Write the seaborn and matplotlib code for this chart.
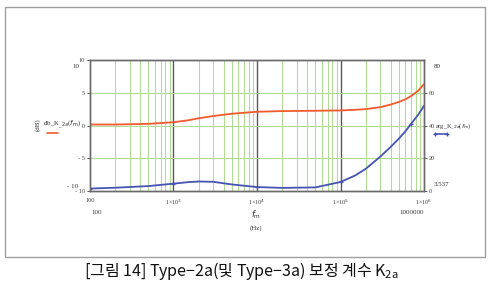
import matplotlib
matplotlib.use("Agg")
import matplotlib.pyplot as plt
import seaborn as sns
import pandas as pd
import numpy as np
from matplotlib.patches import Rectangle

# ---- data ----
freq = [100, 200, 500, 1000, 1500, 2000, 3000, 5000, 10000, 20000, 50000,
        100000, 150000, 200000, 300000, 400000, 500000, 600000, 700000,
        850000, 1000000]
db_k2a = [0.15, 0.15, 0.25, 0.5, 0.8, 1.1, 1.45, 1.8, 2.1, 2.2, 2.25,
          2.3, 2.4, 2.5, 2.8, 3.2, 3.6, 4.0, 4.5, 5.3, 6.3]
arg_k2a = [1.5, 2.0, 3.0, 4.5, 5.4, 5.8, 5.6, 4.0, 2.4, 1.9, 2.2,
           5.5, 9.5, 13.5, 21.0, 27.0, 32.0, 36.5, 41.0, 46.5, 52.0]
x_ticks = [100, 1000, 10000, 100000, 1000000]
x_ticklabels = ["100", r"1×10$^{3}$", r"1×10$^{4}$", r"1×10$^{5}$", r"1×10$^{6}$"]
yl_ticks = [-10, -5, 0, 5, 10]
yr_ticks = [0, 20, 40, 60]

df = pd.DataFrame({"f": freq, "db": db_k2a, "arg": arg_k2a})

sns.set_theme(style="white")
plt.rcParams["font.family"] = ["Liberation Serif", "DejaVu Sans"]

fig = plt.figure(figsize=(5.0, 2.97), dpi=100)
W, H = 500, 297
def fx(px): return px / W
def fy(py): return 1 - py / H

# outer frame
fig.patches.append(Rectangle((fx(5), fy(257)), fx(485) - fx(5), fy(7) - fy(257),
                             transform=fig.transFigure, fill=False,
                             edgecolor="#a0a0a0", linewidth=1.0))

ax = fig.add_axes([fx(90), fy(191), fx(424) - fx(90), fy(60) - fy(191)])
ax2 = ax.twinx()

red = "#f25a2e"
blue = "#4653b5"
green = "#b2dc96"

sns.lineplot(data=df, x="f", y="db", ax=ax, color=red, linewidth=1.3)
sns.lineplot(data=df, x="f", y="arg", ax=ax2, color=blue, linewidth=1.3)
ax2.plot(df["f"].iloc[[0, 3, 8, 11, 18]], df["arg"].iloc[[0, 3, 8, 11, 18]],
         linestyle="none", marker="+", markersize=3, markeredgewidth=0.8, color=blue)

ax.set_xscale("log")
ax.set_xlim(100, 1e6)
ax.set_ylim(-10, 10)
ax2.set_ylim(0, 80)

# grid
for dec in [100, 1000, 10000, 100000]:
    for m in range(2, 10):
        ax.axvline(dec * m, color=green, linewidth=0.8, zorder=0)
for d in [1000, 10000, 100000]:
    ax.axvline(d, color="#5a5a5a", linewidth=1.0, zorder=0)
for yv in [-5, 0, 5]:
    ax.axhline(yv, color=green, linewidth=0.8, zorder=0)

for a in (ax, ax2):
    for s in a.spines.values():
        s.set_color("#6a6a6a")
        s.set_linewidth(1.0)

ax.set_xticks(x_ticks)
ax.set_xticklabels(x_ticklabels, fontsize=4.5)
ax.xaxis.set_minor_locator(matplotlib.ticker.NullLocator())
ax.set_yticks(yl_ticks)
ax.set_yticklabels([str(v) if v >= 0 else "- " + str(-v) for v in yl_ticks], fontsize=4.5)
ax2.set_yticks(yr_ticks)
ax2.set_yticklabels([str(v) for v in yr_ticks], fontsize=4.5)
for a in (ax, ax2):
    a.tick_params(length=2, width=0.6, pad=1.5, colors="#444444")
ax.tick_params(axis="x", pad=3)
ax.set_xlabel("")
ax.set_ylabel("")
ax2.set_ylabel("")

tc = "#333333"
fs = 5
# extra Mathcad-style labels
fig.text(fx(76), fy(67), "10", fontsize=fs, color=tc, ha="center", va="center")
fig.text(fx(73), fy(186), "- 10", fontsize=fs, color=tc, ha="center", va="center")
fig.text(fx(437), fy(66), "80", fontsize=fs, color=tc, ha="center", va="center")
fig.text(fx(441), fy(184), "3.537", fontsize=fs, color=tc, ha="center", va="center")
fig.text(fx(97), fy(213), "100", fontsize=fs, color=tc, ha="center", va="center")
fig.text(fx(412), fy(213), "1000000", fontsize=fs, color=tc, ha="center", va="center")
fig.text(fx(256), fy(215), r"$f_{\mathrm{m}}$", fontsize=6, color=tc, ha="center", va="center")
fig.text(fx(256), fy(228), "(Hz)", fontsize=fs, color=tc, ha="center", va="center")

# left legend
fig.text(fx(38), fy(125), "(dB)", fontsize=fs, color=tc, ha="center", va="center", rotation=90)
fig.text(fx(62), fy(125), r"db_K$_{\_2a}$($f_{\mathrm{m}}$)", fontsize=fs, color=tc,
         ha="center", va="center")
fig.add_artist(plt.Line2D([fx(47), fx(58)], [fy(133), fy(133)], color=red, linewidth=1.2,
                          transform=fig.transFigure))
# right legend
fig.text(fx(435), fy(126), r"arg_K$_{\_2a}$($f_{\mathrm{m}}$)", fontsize=4.6, color=tc,
         ha="left", va="center")
fig.add_artist(plt.Line2D([fx(435), fx(447)], [fy(134), fy(134)], color=blue, linewidth=1.2,
                          marker="+", markersize=2.5, markevery=[0, 1],
                          transform=fig.transFigure))

# caption
fig.text(fx(84), fy(271), "[그림 14] Type−2a(및 Type−3a) 보정 계수 K$_{\\mathregular{2a}}$",
         fontsize=11.5, color="#111111", ha="left", va="center",
         family=["Noto Sans CJK KR", "DejaVu Sans"])

fig.savefig("out.png", dpi=100)
